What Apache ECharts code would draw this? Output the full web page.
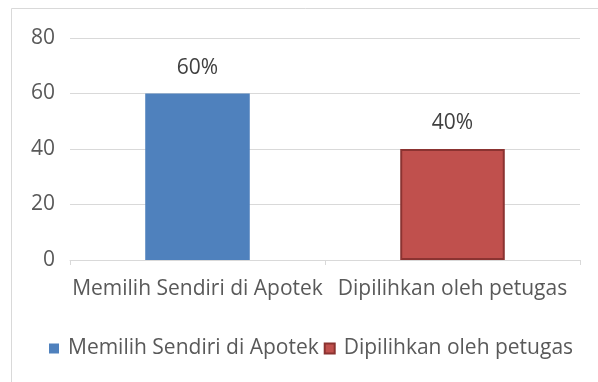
<!DOCTYPE html>
<html><head><meta charset="utf-8">
<script src="https://cdn.jsdelivr.net/npm/echarts@6/dist/echarts.min.js"></script>
<style>html,body{margin:0;padding:0;background:#fff;}#c{width:598px;height:382px;}</style>
</head><body><div id="c"></div>
<script>
const categories = ["Memilih Sendiri di Apotek", "Dipilihkan oleh petugas"];
const seriesNames = ["Memilih Sendiri di Apotek", "Dipilihkan oleh petugas"];
const values = [60, 40];
const yTicks = [0, 20, 40, 60, 80];

const colors = ['#4F81BD', '#C0504D'];
const borders = [null, '#8B3331'];
const font = 'Open Sans';
const fs = 21;

const chart = echarts.init(document.getElementById('c'), null, {renderer: 'canvas'});
const series = seriesNames.map((name, i) => ({
  name: name,
  type: 'bar',
  stack: 'all',
  barWidth: '41%',
  data: categories.map((c, j) => j === i ? values[j] : '-'),
  itemStyle: {color: colors[i], borderColor: borders[i] || colors[i], borderWidth: borders[i] ? 2 : 0},
  label: {show: true, position: 'top', distance: 15, formatter: '{c}%', color: '#404040', fontFamily: font, fontSize: fs}
}));
chart.setOption({
  animation: false,
  backgroundColor: '#fff',
  graphic: [{type: 'rect', shape: {x: 11.5, y: 8.5, width: 620, height: 420}, style: {fill: 'none', stroke: '#d9d9d9', lineWidth: 1}, silent: true}],
  grid: {left: 70, right: 18, top: 38, bottom: 122},
  legend: {
    top: 333, left: 44, itemWidth: 10, itemHeight: 10, itemGap: 5,
    icon: 'rect',
    textStyle: {color: '#595959', fontFamily: font, fontSize: fs, padding: [0, 0, 0, 4]},
    data: seriesNames
  },
  xAxis: {
    type: 'category', data: categories,
    axisLine: {lineStyle: {color: '#d9d9d9'}},
    axisTick: {show: true, length: 5, lineStyle: {color: '#d9d9d9'}},
    axisLabel: {color: '#595959', fontFamily: font, fontSize: fs, margin: 19, interval: 0, hideOverlap: false}
  },
  yAxis: {
    type: 'value', min: yTicks[0], max: yTicks[yTicks.length - 1], interval: 20,
    axisLine: {show: false}, axisTick: {show: false},
    splitLine: {lineStyle: {color: '#d9d9d9'}},
    axisLabel: {color: '#595959', fontFamily: font, fontSize: fs, margin: 15}
  },
  series: series
});
</script></body></html>
